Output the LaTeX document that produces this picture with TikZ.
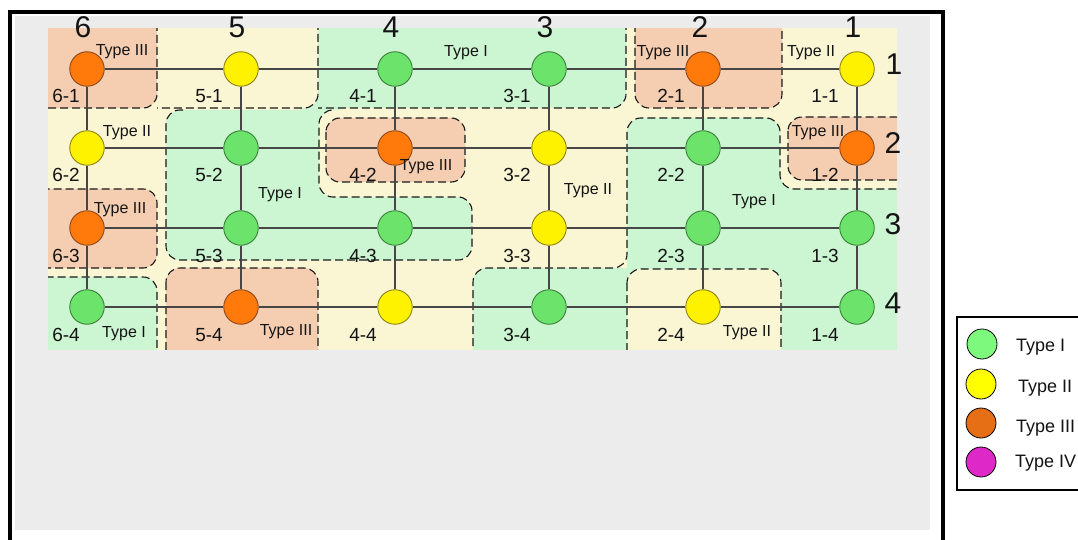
\documentclass[tikz,border=0pt]{standalone}
\usepackage{fontspec}
\setmainfont{Liberation Sans}
\definecolor{bggray}{RGB}{236,236,236}
\definecolor{rcream}{RGB}{250,246,212}
\definecolor{rgreen}{RGB}{204,245,210}
\definecolor{rorange}{RGB}{245,206,178}
\definecolor{ngreen}{RGB}{108,228,108}
\definecolor{ngreenD}{RGB}{60,125,60}
\definecolor{nyellow}{RGB}{255,242,0}
\definecolor{nyellowD}{RGB}{140,130,20}
\definecolor{norange}{RGB}{255,122,10}
\definecolor{norangeD}{RGB}{140,70,30}
\definecolor{lgreen}{RGB}{125,250,125}
\definecolor{lyellow}{RGB}{255,255,0}
\definecolor{lorange}{RGB}{230,110,20}
\definecolor{lmagenta}{RGB}{222,40,200}
\definecolor{dashcol}{RGB}{25,25,25}
\definecolor{gridcol}{RGB}{70,70,70}
\definecolor{txt}{RGB}{20,20,20}
\begin{document}
\begin{tikzpicture}[x=1pt,y=-1pt,
  dl/.style={draw=dashcol,line width=1.1pt,dash pattern=on 8pt off 4pt,rounded corners=14pt},
  reg/.style={dl},
  gl/.style={draw=gridcol,line width=1.1pt},
  circ/.style={circle,minimum size=34.5pt,inner sep=0pt,line width=0.9pt},
  gnode/.style={circ,fill=ngreen,draw=ngreenD},
  ynode/.style={circ,fill=nyellow,draw=nyellowD},
  onode/.style={circ,fill=norange,draw=norangeD},
  lab/.style={anchor=base,inner sep=0pt,text=txt,font=\fontsize{19}{19}\selectfont},
  big/.style={anchor=base,inner sep=0pt,text=txt,font=\fontsize{30}{30}\selectfont},
  typ/.style={anchor=base,inner sep=0pt,text=txt,font=\fontsize{16}{16}\selectfont},
  legc/.style={circle,minimum size=30pt,inner sep=0pt,draw=black,line width=0.8pt},
  legt/.style={anchor=base west,inner sep=0pt,text=txt,font=\fontsize{18}{18}\selectfont}
]
\useasboundingbox (0,0) rectangle (1078,540);
\fill[white] (0,0) rectangle (1078,540);
\fill[bggray] (15,16) rectangle (930,530);
\draw[line width=3.8pt] (10,545) -- (10,12) -- (943,12) -- (943,545);

% ---------- regions ----------
\begin{scope}
\clip (48,29) rectangle (897,349);
\fill[rcream] (40,20) rectangle (905,360);
% green fills
\fill[rgreen] (300,95) rectangle (340,125);
\fill[rgreen,rounded corners=14pt] (318,10) rectangle (626,108);
\fill[rgreen,rounded corners=14pt] (166,110) -- (340,110) -- (340,197) -- (472,197) -- (472,260) -- (166,260) -- cycle;
\fill[rgreen,rounded corners=14pt] (627,118) -- (780,118) -- (780,189) -- (910,189) -- (910,370) -- (627,370) -- cycle;
\fill[rgreen,rounded corners=14pt] (473,268) rectangle (640,370);
% cream overlays
\fill[rcream,rounded corners=14pt] (150,10) rectangle (318,108);
\fill[rcream,rounded corners=14pt] (319,110) rectangle (472,197);
% dashed open outlines
\draw[dl] (318,10) -- (318,108) -- (157,108);
\draw[dl] (626,10) -- (626,108) -- (318,108);
\draw[dl] (183,110) -- (166,110) -- (166,260) -- (472,260) -- (472,197) -- (319,197) -- (319,110) -- (334,110);
\draw[dl] (473,370) -- (473,268) -- (627,268) -- (627,118) -- (780,118) -- (780,189) -- (910,189);
% closed regions
\path[reg,fill=rorange] (30,10) rectangle (157,108);
\path[reg,fill=rorange] (635,10) rectangle (782,108);
\path[reg,fill=rorange] (30,189) rectangle (157,268);
\path[reg,fill=rgreen] (30,277) rectangle (157,370);
\path[reg,fill=rorange] (166,268) rectangle (318,370);
\path[reg,fill=rcream] (627,269) rectangle (781,370);
\path[reg,fill=rorange] (788,117) rectangle (910,180);
\path[reg,fill=rorange] (326,118) rectangle (465,182);
\end{scope}

% ---------- nodes ----------
\node[onode] (n61) at (87,69) {};
\node[ynode] (n51) at (241,69) {};
\node[gnode] (n41) at (395,69) {};
\node[gnode] (n31) at (549,69) {};
\node[onode] (n21) at (703,69) {};
\node[ynode] (n11) at (857,69) {};
\node[ynode] (n62) at (87,148) {};
\node[gnode] (n52) at (241,148) {};
\node[onode] (n42) at (395,148) {};
\node[ynode] (n32) at (549,148) {};
\node[gnode] (n22) at (703,148) {};
\node[onode] (n12) at (857,148) {};
\node[onode] (n63) at (87,228) {};
\node[gnode] (n53) at (241,228) {};
\node[gnode] (n43) at (395,228) {};
\node[ynode] (n33) at (549,228) {};
\node[gnode] (n23) at (703,228) {};
\node[gnode] (n13) at (857,228) {};
\node[gnode] (n64) at (87,307) {};
\node[onode] (n54) at (241,307) {};
\node[ynode] (n44) at (395,307) {};
\node[gnode] (n34) at (549,307) {};
\node[ynode] (n24) at (703,307) {};
\node[gnode] (n14) at (857,307) {};

% ---------- grid lines ----------
\foreach \r in {1,2,3,4}{
  \foreach \c/\d in {6/5,5/4,4/3,3/2,2/1}{
    \draw[gl] (n\c\r) -- (n\d\r);
  }
}
\foreach \c in {1,...,6}{
  \foreach \r/\s in {1/2,2/3,3/4}{
    \draw[gl] (n\c\r) -- (n\c\s);
  }
}

% ---------- node labels ----------
\foreach \c/\x in {6/66,5/209,4/363,3/517,2/671,1/825}{
  \foreach \r/\y in {1/103,2/182,3/262,4/341}{
    \node[lab] (l\c\r) at (\x,\y) {\c-\r};
  }
}

% ---------- column and row headers ----------
\node[big] (h6) at (83,38) {6};
\node[big] (h5) at (237,38) {5};
\node[big] (h4) at (391,38) {4};
\node[big] (h3) at (545,38) {3};
\node[big] (h2) at (700,38) {2};
\node[big] (h1) at (853,38) {1};
\node[big] (v1) at (894,75) {1};
\node[big] (v2) at (893,154) {2};
\node[big] (v3) at (893,234) {3};
\node[big] (v4) at (893,313) {4};

% ---------- type labels ----------
\node[typ] (t1) at (122,56) {Type III};
\node[typ] (t2) at (466,57) {Type I};
\node[typ] (t3) at (663,57) {Type III};
\node[typ] (t4) at (811,57) {Type II};
\node[typ] (t5) at (127,137) {Type II};
\node[typ] (t6) at (426,171) {Type III};
\node[typ] (t7) at (818,137) {Type III};
\node[typ] (t8) at (280,198) {Type I};
\node[typ] (t9) at (588,195) {Type II};
\node[typ] (t10) at (754,205) {Type I};
\node[typ] (t11) at (120,213) {Type III};
\node[typ] (t12) at (124,337) {Type I};
\node[typ] (t13) at (286,335) {Type III};
\node[typ] (t14) at (747,336) {Type II};

% ---------- legend ----------
\draw[line width=1.1pt] (957,317) rectangle (1095,490);
\node[legc,fill=lgreen] (k1) at (982,344) {};
\node[legc,fill=lyellow] (k2) at (981,384) {};
\node[legc,fill=lorange] (k3) at (981,423) {};
\node[legc,fill=lmagenta] (k4) at (981,462) {};
\node[legt] (kt1) at (1016,351) {Type I};
\node[legt] (kt2) at (1018,392) {Type II};
\node[legt] (kt3) at (1016,432) {Type III};
\node[legt] (kt4) at (1015,467) {Type IV};
\end{tikzpicture}
\end{document}
